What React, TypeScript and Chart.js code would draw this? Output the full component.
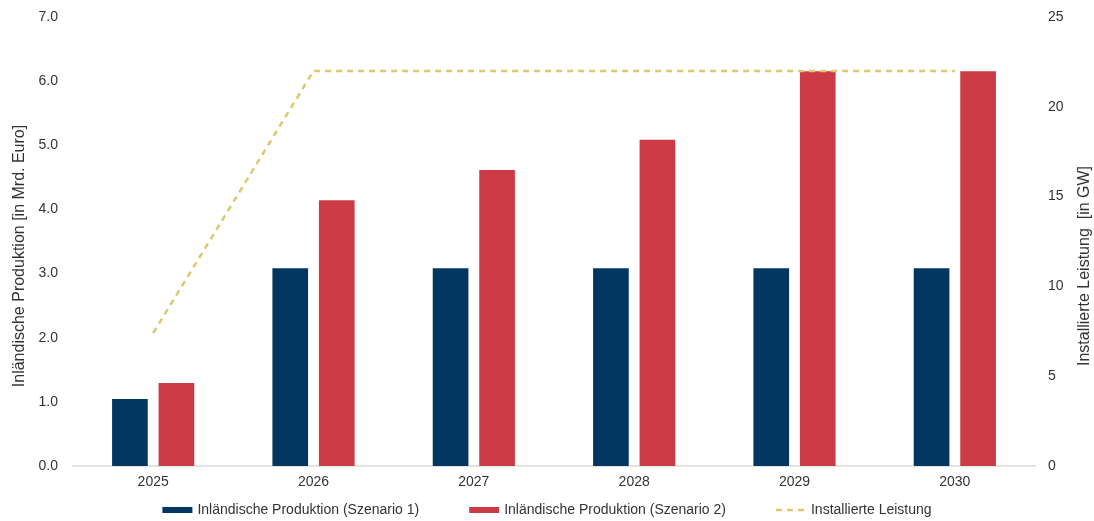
import React, { useEffect, useRef } from "react";
import { Chart, registerables } from "chart.js";

Chart.register(...registerables);

const categories = ["2025", "2026", "2027", "2028", "2029", "2030"];
const scenario1 = [1.06, 3.1, 3.1, 3.1, 3.1, 3.1];
const scenario2 = [1.31, 4.16, 4.63, 5.1, 6.17, 6.17];
const installed = [7.4, 22, 22, 22, 22, 22];

const leftTitle = "Inländische Produktion [in Mrd. Euro]";
const rightTitle = "Installierte Leistung  [in GW]";

const FONT = "'Liberation Sans', Arial, sans-serif";
const TEXT = "#333333";

const extrasPlugin = {
  id: "extras",
  afterDraw(chart: any) {
    const ctx = chart.ctx as CanvasRenderingContext2D;
    const area = chart.chartArea;
    ctx.save();
    ctx.fillStyle = TEXT;
    ctx.font = `16px ${FONT}`;
    ctx.textAlign = "center";
    ctx.textBaseline = "middle";
    ctx.save();
    ctx.translate(20, 256);
    ctx.rotate(-Math.PI / 2);
    ctx.fillText(leftTitle, 0, 0);
    ctx.restore();
    ctx.save();
    ctx.translate(1085, 266);
    ctx.rotate(-Math.PI / 2);
    ctx.fillText(rightTitle, 0, 0);
    ctx.restore();

    ctx.font = `14px ${FONT}`;
    const boxW = 30;
    const gapBoxText = 5;
    const itemGap = 50;
    const ds = chart.data.datasets;
    const widths = ds.map((d: any) => ctx.measureText(d.label).width);
    const total =
      widths.reduce((a: number, b: number) => a + b, 0) +
      ds.length * (boxW + gapBoxText) +
      (ds.length - 1) * itemGap;
    let x = (area.left + area.right) / 2 - 7 - total / 2;
    const y = 510;
    ds.forEach((d: any, i: number) => {
      if (d.type === "line") {
        ctx.save();
        ctx.strokeStyle = d.borderColor;
        ctx.lineWidth = 2.5;
        ctx.setLineDash(d.borderDash || []);
        ctx.beginPath();
        ctx.moveTo(x, y);
        ctx.lineTo(x + boxW, y);
        ctx.stroke();
        ctx.restore();
      } else {
        ctx.fillStyle = d.backgroundColor;
        ctx.fillRect(x, y - 3, boxW, 6);
      }
      ctx.fillStyle = TEXT;
      ctx.textAlign = "left";
      ctx.textBaseline = "middle";
      ctx.fillText(d.label, x + boxW + gapBoxText, y);
      x += boxW + gapBoxText + widths[i] + itemGap;
    });
    ctx.restore();
  },
};

export default function App() {
  const ref = useRef<HTMLCanvasElement | null>(null);

  useEffect(() => {
    if (!ref.current) return;
    const chart = new Chart(ref.current, {
      type: "bar",
      data: {
        labels: categories,
        datasets: [
          {
            type: "bar",
            label: "Inländische Produktion (Szenario 1)",
            data: scenario1,
            backgroundColor: "#003660",
            borderColor: "rgba(255,255,255,0.35)",
            borderWidth: 1,
            categoryPercentage: 0.58,
            barPercentage: 0.81,
            yAxisID: "y",
            order: 1,
          },
          {
            type: "bar",
            label: "Inländische Produktion (Szenario 2)",
            data: scenario2,
            backgroundColor: "#cc3a45",
            borderColor: "rgba(255,255,255,0.35)",
            borderWidth: 1,
            categoryPercentage: 0.58,
            barPercentage: 0.81,
            yAxisID: "y",
            order: 1,
          },
          {
            type: "line",
            label: "Installierte Leistung",
            data: installed,
            borderColor: "#dfc86c",
            backgroundColor: "#dfc86c",
            borderWidth: 2.5,
            borderDash: [6, 5],
            pointRadius: 0,
            pointHoverRadius: 0,
            tension: 0,
            fill: false,
            yAxisID: "y1",
            order: 0,
          } as any,
        ],
      },
      options: {
        animation: false,
        responsive: true,
        maintainAspectRatio: false,
        layout: { padding: { top: 17, left: 0, right: 0, bottom: 31 } },
        plugins: {
          tooltip: { enabled: false },
          legend: { display: false },
        },
        scales: {
          x: {
            grid: { display: false, drawTicks: false },
            border: { display: true, color: "#e3e3e3", width: 2 },
            ticks: { color: TEXT, font: { family: FONT, size: 14 }, padding: 8 },
            afterFit: (s: any) => {
              s.height = 24;
            },
          },
          y: {
            position: "left",
            min: 0,
            max: 7,
            grid: { display: false, drawTicks: false },
            border: { display: false },
            ticks: {
              stepSize: 1,
              color: TEXT,
              font: { family: FONT, size: 14 },
              padding: 15,
              callback: (v: any) => Number(v).toFixed(1),
            },
            afterFit: (s: any) => {
              s.width = 73;
              s.paddingTop = 0;
              s.paddingBottom = 0;
            },
          },
          y1: {
            position: "right",
            min: 0,
            max: 25,
            grid: { display: false, drawTicks: false },
            border: { display: false },
            ticks: {
              stepSize: 5,
              color: TEXT,
              font: { family: FONT, size: 14 },
              padding: 13,
            },
            afterFit: (s: any) => {
              s.width = 59;
              s.paddingTop = 0;
              s.paddingBottom = 0;
            },
          },
        },
      },
      plugins: [extrasPlugin],
    });
    return () => chart.destroy();
  }, []);

  return (
    <div style={{ position: "fixed", left: 0, top: 0, width: 1094, height: 521, background: "#fff" }}>
      <canvas ref={ref} />
    </div>
  );
}
